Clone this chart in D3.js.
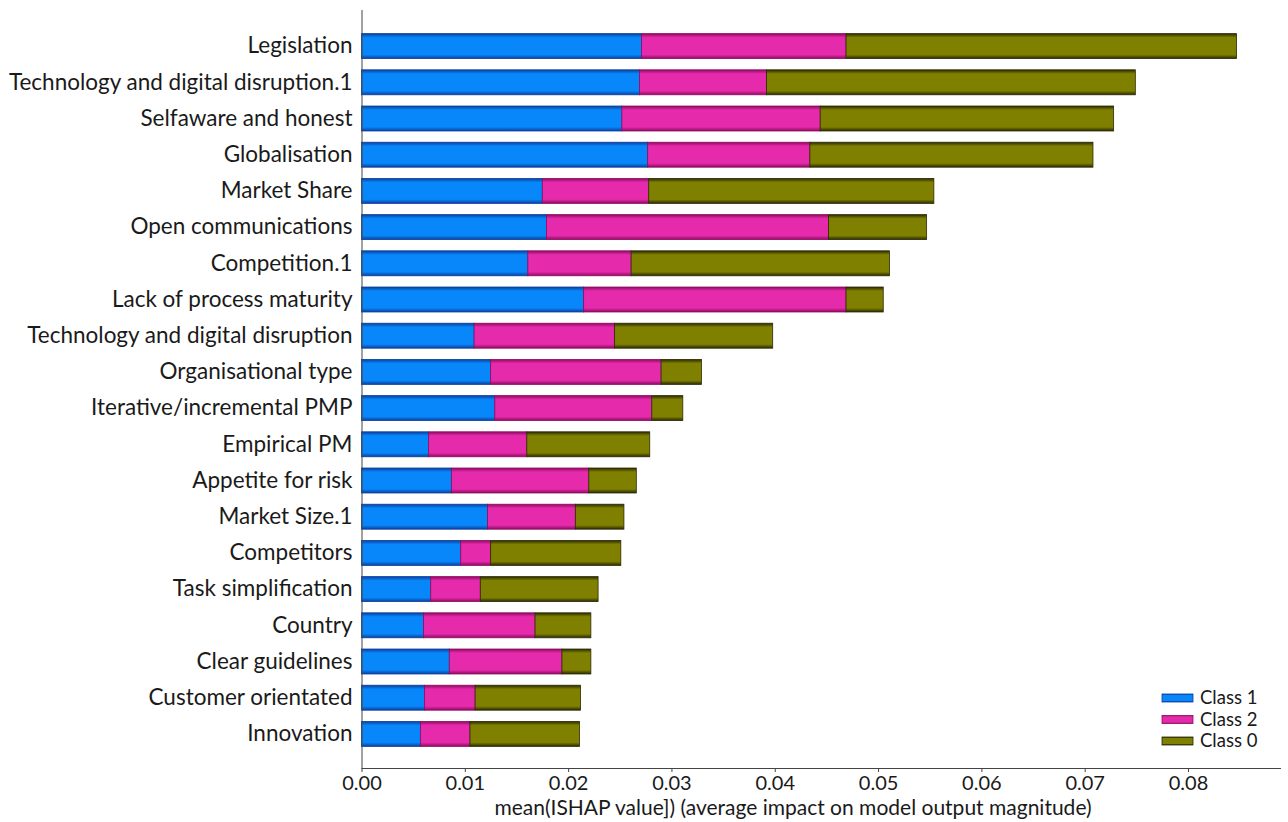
<!DOCTYPE html>
<html>
<head>
<meta charset="utf-8">
<script src="https://cdn.jsdelivr.net/npm/d3@7"></script>
<style>
  html, body { margin: 0; padding: 0; background: #ffffff; }
  svg { display: block; }
  text { font-family: Lato, "Open Sans", sans-serif; fill: #1a1a1a; }
</style>
</head>
<body>
<svg id="chart" width="1288" height="822"></svg>
<script>
// Features, ordered from largest to smallest total impact
const features = [
  "Legislation",
  "Technology and digital disruption.1",
  "Selfaware and honest",
  "Globalisation",
  "Market Share",
  "Open communications",
  "Competition.1",
  "Lack of process maturity",
  "Technology and digital disruption",
  "Organisational type",
  "Iterative/incremental PMP",
  "Empirical PM",
  "Appetite for risk",
  "Market Size.1",
  "Competitors",
  "Task simplification",
  "Country",
  "Clear guidelines",
  "Customer orientated",
  "Innovation"
];

// mean |SHAP| per class
const class1 = [0.0271, 0.0269, 0.0252, 0.0277, 0.0175, 0.0179, 0.0161, 0.0215, 0.0109, 0.0125,
                0.0129, 0.0065, 0.0087, 0.0122, 0.0096, 0.0067, 0.0060, 0.0085, 0.0061, 0.0057];
const class2 = [0.0198, 0.0123, 0.0192, 0.0157, 0.0103, 0.0273, 0.0100, 0.0254, 0.0136, 0.0165,
                0.0152, 0.0095, 0.0133, 0.0085, 0.0029, 0.0048, 0.0108, 0.0109, 0.0049, 0.0048];
const class0 = [0.0378, 0.0357, 0.0284, 0.0274, 0.0276, 0.0095, 0.0250, 0.0036, 0.0153, 0.0039,
                0.0030, 0.0119, 0.0046, 0.0047, 0.0126, 0.0114, 0.0054, 0.0028, 0.0102, 0.0106];

const seriesNames = ["Class 1", "Class 2", "Class 0"];
const xTicks = [0, 0.01, 0.02, 0.03, 0.04, 0.05, 0.06, 0.07, 0.08];
const xTitle = "mean(ISHAP value]) (average impact on model output magnitude)";

const palette = {
  "Class 1": { base: "#0787fa", dark: "#0b3f9e" },
  "Class 2": { base: "#e52aab", dark: "#8e0a60" },
  "Class 0": { base: "#808000", dark: "#2a2a05" }
};

const table = features.map((f, i) => ({
  feature: f, "Class 1": class1[i], "Class 2": class2[i], "Class 0": class0[i]
}));

const svg = d3.select("#chart");

const x = d3.scaleLinear().domain([0, 0.089]).range([361.5, 1281]);
const y = d3.scaleBand().domain(features).range([28, 752]).paddingInner(0.31).paddingOuter(0.155);

// Vertical shading for each class: darker at top and bottom edges
const defs = svg.append("defs");
seriesNames.forEach((s, k) => {
  const g = defs.append("linearGradient")
    .attr("id", "grad" + k).attr("x1", 0).attr("y1", 0).attr("x2", 0).attr("y2", 1);
  const c = palette[s];
  [[0, c.dark], [0.16, c.base], [0.84, c.base], [1, c.dark]].forEach(([o, col]) =>
    g.append("stop").attr("offset", o).attr("stop-color", col));
});

const stack = d3.stack().keys(seriesNames)(table);

svg.append("g").selectAll("g")
  .data(stack)
  .join("g")
  .attr("fill", (d, k) => `url(#grad${k})`)
  .attr("stroke", d => palette[d.key].dark)
  .attr("stroke-width", 0.8)
  .selectAll("rect")
  .data(d => d)
  .join("rect")
  .attr("x", d => x(d[0]))
  .attr("y", d => y(d.data.feature))
  .attr("width", d => x(d[1]) - x(d[0]))
  .attr("height", y.bandwidth());

// x axis
const xAxis = svg.append("g")
  .attr("transform", "translate(0,768)")
  .call(d3.axisBottom(x).tickValues(xTicks).tickFormat(d3.format(".2f")).tickSize(4).tickSizeOuter(0));
xAxis.select(".domain").attr("stroke", "#444").attr("d", "M361.5,0.5H1281");
xAxis.selectAll(".tick line").attr("stroke", "#444");
xAxis.selectAll(".tick text")
  .attr("y", 8)
  .style("font-size", "20px")
  .style("font-family", "Lato, 'Open Sans', sans-serif")
  .attr("fill", "#1a1a1a");

// y axis (line only, labels drawn at the left)
const yAxis = svg.append("g")
  .attr("transform", "translate(361.5,0)")
  .call(d3.axisLeft(y).tickSize(0).tickPadding(9));
yAxis.select(".domain").attr("stroke", "#444").attr("d", "M0.5,10V768");
yAxis.selectAll(".tick text")
  .style("font-size", "22.5px")
  .style("font-family", "Lato, 'Open Sans', sans-serif")
  .attr("fill", "#1a1a1a");

// axis title
svg.append("text")
  .attr("x", 793).attr("y", 815)
  .attr("text-anchor", "middle")
  .style("font-size", "21px")
  .text(xTitle);

// legend
const legend = svg.append("g").attr("transform", "translate(1162,698)");
seriesNames.forEach((s, k) => {
  const row = legend.append("g").attr("transform", `translate(0,${k * 21.5})`);
  row.append("rect")
    .attr("x", 0).attr("y", -4).attr("width", 31).attr("height", 8)
    .attr("fill", `url(#grad${k})`)
    .attr("stroke", palette[s].dark).attr("stroke-width", 0.8);
  row.append("text")
    .attr("x", 38).attr("y", 0).attr("dy", "0.35em")
    .style("font-size", "18.5px")
    .text(s);
});
</script>
</body>
</html>
